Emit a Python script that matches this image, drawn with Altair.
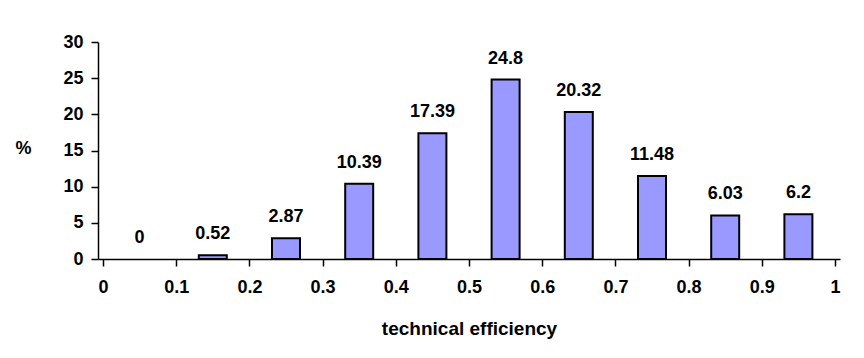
import altair as alt
import pandas as pd

bin_start = [0.0, 0.1, 0.2, 0.3, 0.4, 0.5, 0.6, 0.7, 0.8, 0.9]
percent = [0, 0.52, 2.87, 10.39, 17.39, 24.8, 20.32, 11.48, 6.03, 6.2]
x_ticks = [0, 0.1, 0.2, 0.3, 0.4, 0.5, 0.6, 0.7, 0.8, 0.9, 1.0]
y_ticks = [0, 5, 10, 15, 20, 25, 30]

df = pd.DataFrame({"start": bin_start, "pct": percent})

FONT = "Liberation Sans"

X = alt.X(
    "center:Q",
    scale=alt.Scale(domain=[0, 1], nice=False),
    axis=alt.Axis(
        values=x_ticks,
        format="~g",
        title="technical efficiency",
        titleFont=FONT, titleFontSize=19, titleFontWeight="bold",
        titleColor="black", titleBaseline="middle", titleY=69,
        labelFont=FONT, labelFontSize=18, labelFontWeight="bold",
        labelColor="black", labelPadding=12, labelFlush=False,
        labelOverlap=False,
        tickSize=7, tickColor="black", tickWidth=1.5,
        domainColor="black", domainWidth=1.5, grid=False,
    ),
)

Y = alt.Y(
    "pct:Q",
    scale=alt.Scale(domain=[0, 30], nice=False),
    axis=alt.Axis(
        values=y_ticks,
        title="%",
        titleAngle=0, titleAlign="center", titleBaseline="middle",
        titleX=-75, titleY=106,
        titleFont=FONT, titleFontSize=18, titleFontWeight="bold", titleColor="black",
        labelFont=FONT, labelFontSize=18, labelFontWeight="bold",
        labelColor="black", labelPadding=8, labelOverlap=False,
        tickSize=7, tickColor="black", tickWidth=1.5,
        domainColor="black", domainWidth=1.5, grid=False,
    ),
)

base = alt.Chart(df).transform_calculate(center="datum.start + 0.05")

bars = base.transform_filter("datum.pct > 0").mark_bar(
    size=28, color="#9999FF", stroke="black", strokeWidth=2
).encode(x=X, y=Y)

labels = base.mark_text(
    font=FONT, fontSize=18, fontWeight="bold", color="black",
    baseline="alphabetic", dy=-16,
).encode(
    x=X,
    y=Y,
    text=alt.Text("pct:Q", format="~g"),
)

chart = (bars + labels).properties(
    width=742, height=217,
    autosize="none",
    padding={"left": 90, "top": 34, "right": 16, "bottom": 85},
).configure_view(stroke=None)

chart.save("out.html", embed_options={"renderer": "svg", "actions": False})
